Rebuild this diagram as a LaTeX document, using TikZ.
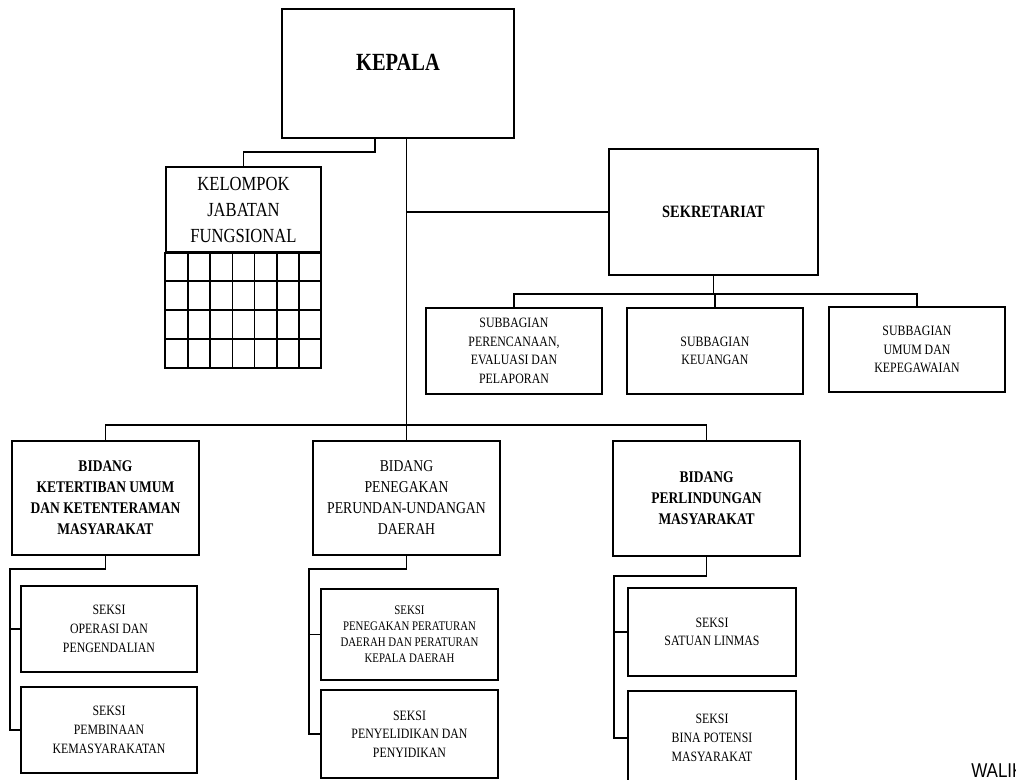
\documentclass[tikz,border=0pt]{standalone}
\usepackage{fontspec}
\setmainfont{Liberation Serif}[FakeStretch=0.83]
\newfontfamily\walifont{Liberation Sans}[FakeStretch=0.85]
\tikzset{
  kotak/.style={draw, line width=1.2pt, inner sep=0pt, align=center},
  garis/.style={line width=1.2pt},
  judul/.style={font=\bfseries\fontsize{12.2}{15.75}\selectfont},
  biasa/.style={font=\fontsize{12.4}{15.75}\selectfont},
  kecil/.style={font=\fontsize{10.7}{14}\selectfont},
}
\begin{document}
\begin{tikzpicture}[x=0.75pt,y=-0.75pt]
    \useasboundingbox (0,0) rectangle (1016,780);
    \clip (0,0) rectangle (1016,780);
    % Kepala
    \node[kotak, minimum width=174pt, minimum height=96.75pt] (kepala) at (398,73.5) {};
    \node[font=\bfseries\fontsize{18.5}{22}\selectfont] (kepalateks) at (398,62) {KEPALA};
    % Kelompok jabatan fungsional
    \node[kotak, minimum width=116.25pt, minimum height=63.75pt,
          font=\fontsize{15}{19.5}\selectfont] (kjf) at (243.5,209.5) {KELOMPOK\\JABATAN\\FUNGSIONAL};
    \draw[garis] (kjf.south west) rectangle (321,368);
    \foreach \i in {1,...,6}
      \draw[garis] ({166+\i*155/7},252) -- ({166+\i*155/7},368);
    \foreach \j in {1,2,3}
      \draw[garis] (166,{252+\j*29}) -- (321,{252+\j*29});
    % Sekretariat
    \node[kotak, judul, font=\bfseries\fontsize{13}{16}\selectfont, minimum width=156.75pt, minimum height=94.5pt] (sekretariat) at (713.5,212) {SEKRETARIAT};
    % Subbagian
    \node[kotak, kecil, minimum width=132pt, minimum height=64.5pt] (sub1) at (514,351) {SUBBAGIAN\\PERENCANAAN,\\EVALUASI DAN\\PELAPORAN};
    \node[kotak, kecil, minimum width=132pt, minimum height=64.5pt] (sub2) at (715,351) {SUBBAGIAN\\KEUANGAN};
    \node[kotak, kecil, minimum width=132pt, minimum height=63.75pt] (sub3) at (917,349.5) {SUBBAGIAN\\UMUM DAN\\KEPEGAWAIAN};
    % Bidang
    \node[kotak, judul, minimum width=140.25pt, minimum height=85.5pt] (bid1) at (105.5,498) {BIDANG\\KETERTIBAN UMUM\\DAN KETENTERAMAN\\MASYARAKAT};
    \node[kotak, biasa, minimum width=140.25pt, minimum height=85.5pt] (bid2) at (406.5,498) {BIDANG\\PENEGAKAN\\PERUNDAN-UNDANGAN\\DAERAH};
    \node[kotak, judul, minimum width=140.25pt, minimum height=86.25pt] (bid3) at (706.5,498.5) {BIDANG\\PERLINDUNGAN\\MASYARAKAT};
    % Seksi
    \node[kotak, kecil, minimum width=132pt, minimum height=64.5pt] (sekA1) at (109,629) {SEKSI\\OPERASI DAN\\PENGENDALIAN};
    \node[kotak, kecil, minimum width=132pt, minimum height=64.5pt] (sekB1) at (109,730) {SEKSI\\PEMBINAAN\\KEMASYARAKATAN};
    \node[kotak, font=\fontsize{9.8}{12}\selectfont, minimum width=132.75pt, minimum height=68.25pt] (sekA2) at (409.5,634.5) {SEKSI\\PENEGAKAN PERATURAN\\DAERAH DAN PERATURAN\\KEPALA DAERAH};
    \node[kotak, kecil, minimum width=132.75pt, minimum height=66pt] (sekB2) at (409.5,734) {SEKSI\\PENYELIDIKAN DAN\\PENYIDIKAN};
    \node[kotak, kecil, minimum width=126pt, minimum height=66pt] (sekA3) at (712,632) {SEKSI\\SATUAN LINMAS};
    \node[kotak, kecil, minimum width=126pt, minimum height=70.5pt] (sekB3) at (712,738) {SEKSI\\BINA POTENSI\\MASYARAKAT};
    % Garis kepala ke kelompok jabatan fungsional
    \coordinate (kj) at (243.5,152);
    \draw[garis] ([xshift=-17.25pt]kepala.south) |- (kj) -- (kjf.north);
    % Garis utama
    \draw[garis] (kepala.south -| bid2.north) -- (bid2.north);
    \draw[garis] (sekretariat.west -| bid2.north) -- (sekretariat.west);
    \coordinate (bbus) at (406.5,425);
    \draw[garis] (bid1.north) |- (bbus) -| (bid3.north);
    % Garis sekretariat ke subbagian
    \coordinate (sbus) at (713.5,294);
    \draw[garis] (sekretariat.south) -- (sbus);
    \draw[garis] (sub1.north) |- (sbus) -| (sub3.north);
    \draw[garis] (sub2.north) -- (sub2.north |- sbus);
    % Garis bidang ke seksi
    \foreach \b/\x/\y in {1/10/569, 2/309/569, 3/614/576} {
      \coordinate (t\b) at (\x,\y);
      \draw[garis] (bid\b.south) |- (t\b) |- (sekB\b.west);
      \draw[garis] (t\b |- sekA\b.west) -- (sekA\b.west);
    }
    % Tulisan di pojok
    \node[anchor=base west, font=\walifont\fontsize{15}{18}\selectfont, inner sep=0pt] (wali) at (971,777) {WALIK};
\end{tikzpicture}
\end{document}
